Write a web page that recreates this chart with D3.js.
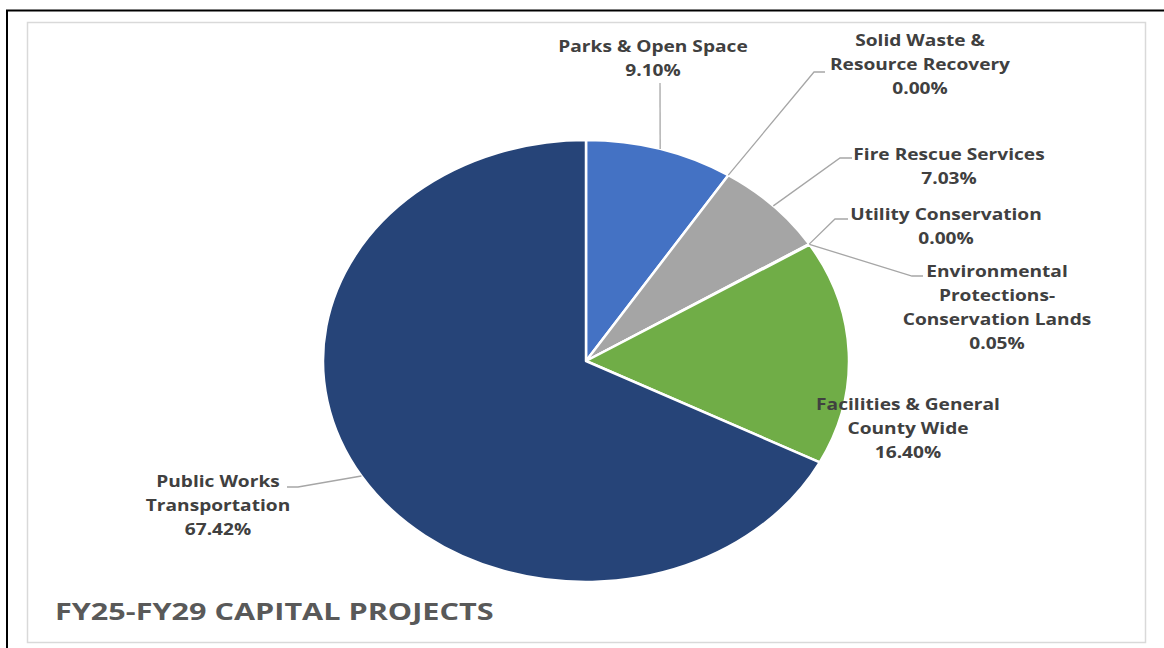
<!DOCTYPE html>
<html lang="en">
<head>
    <meta charset="UTF-8">
    <title>FY25-FY29 Capital Projects</title>
    <style>
        body {
            margin: 0;
            padding: 0;
            background-color: #ffffff;
            font-family: "Open Sans", Arial, sans-serif;
        }
        #chart {
            width: 1164px;
            height: 648px;
        }
    </style>
</head>
<body>

<div id="chart"></div>

<script src="https://d3js.org/d3.v7.min.js"></script>
<script>
    // Chart data (clockwise from 12 o'clock)
    const categories = [
        "Parks & Open Space",
        "Solid Waste & Resource Recovery",
        "Fire Rescue Services",
        "Utility Conservation",
        "Environmental Protections-Conservation Lands",
        "Facilities & General County Wide",
        "Public Works Transportation"
    ];
    const values = [9.10, 0.00, 7.03, 0.00, 0.05, 16.40, 67.42];
    const colors = ["#4472C4", "#ED7D31", "#A5A5A5", "#FFC000", "#5B9BD5", "#70AD47", "#264478"];

    // How each label is broken into lines
    const labelLines = [
        ["Parks & Open Space"],
        ["Solid Waste &", "Resource Recovery"],
        ["Fire Rescue Services"],
        ["Utility Conservation"],
        ["Environmental", "Protections-", "Conservation Lands"],
        ["Facilities & General", "County Wide"],
        ["Public Works", "Transportation"]
    ];

    // Label placement: centre x, first line y, leader elbow and end
    const labelPos = [
        { x: 653, y: 46, elbow: null, end: [660, 83] },
        { x: 920, y: 40, elbow: [814, 72], end: [825, 72] },
        { x: 949, y: 154, elbow: [840, 158], end: [852, 158] },
        { x: 946, y: 214, elbow: [835, 219], end: [848, 219] },
        { x: 997, y: 271, elbow: [912, 276], end: [923, 276] },
        { x: 908, y: 404, elbow: null, end: null },
        { x: 218, y: 481, elbow: [298, 487], end: [287, 487] }
    ];

    const width = 1164, height = 648;
    const cx = 586, cy = 361;
    const rx = 263, ry = 221;
    const stretch = rx / ry;   // the whole chart is drawn wider than tall

    const svg = d3.select("#chart").append("svg")
        .attr("width", width)
        .attr("height", height);

    // Outer frame (top and left black rules) and inner grey box
    svg.append("rect")
        .attr("x", 0).attr("y", 0)
        .attr("width", width).attr("height", height)
        .attr("fill", "#ffffff");
    svg.append("line")
        .attr("x1", 6).attr("y1", 10.5).attr("x2", width).attr("y2", 10.5)
        .attr("stroke", "#000").attr("stroke-width", 2);
    svg.append("line")
        .attr("x1", 7).attr("y1", 10).attr("x2", 7).attr("y2", height)
        .attr("stroke", "#000").attr("stroke-width", 2);
    svg.append("rect")
        .attr("x", 27.5).attr("y", 22.5)
        .attr("width", 1118).attr("height", 620)
        .attr("fill", "#ffffff")
        .attr("stroke", "#d9d9d9")
        .attr("stroke-width", 1.5);

    const data = categories.map((c, i) => ({ name: c, value: values[i], color: colors[i], lines: labelLines[i], pos: labelPos[i] }));

    const pie = d3.pie()
        .value(d => d.value)
        .sort(null);

    const arcs = pie(data);

    const arc = d3.arc()
        .innerRadius(0)
        .outerRadius(ry);

    // Slices: circular pie stretched into an ellipse
    svg.append("g")
        .attr("transform", `translate(${cx},${cy}) scale(${stretch},1)`)
        .selectAll("path")
        .data(arcs.filter(d => d.data.value > 0))
        .enter().append("path")
        .attr("d", arc)
        .attr("fill", d => d.data.color)
        .attr("stroke", "#ffffff")
        .attr("stroke-width", 2.5)
        .attr("stroke-linejoin", "round")
        .attr("vector-effect", "non-scaling-stroke");

    // Point on the ellipse edge at the slice's middle angle
    function anchor(d) {
        const a = (d.startAngle + d.endAngle) / 2;
        return [cx + rx * Math.sin(a), cy - ry * Math.cos(a)];
    }

    // Leader lines
    const line = d3.line();
    svg.append("g")
        .selectAll("path")
        .data(arcs.filter(d => d.data.pos.end))
        .enter().append("path")
        .attr("d", d => {
            const p = d.data.pos;
            const pts = [anchor(d)];
            if (p.elbow) pts.push(p.elbow);
            pts.push(p.end);
            return line(pts);
        })
        .attr("fill", "none")
        .attr("stroke", "#a6a6a6")
        .attr("stroke-width", 1.3);

    // Labels
    const fmt = d3.format(".2f");
    const labels = svg.append("g")
        .selectAll("text")
        .data(arcs)
        .enter().append("text")
        .attr("transform", d => `translate(${d.data.pos.x},0) scale(1.16,1)`)
        .attr("text-anchor", "middle")
        .attr("font-family", "'Open Sans', Arial, sans-serif")
        .attr("font-weight", "bold")
        .attr("font-size", "16.5px")
        .attr("fill", "#404040");

    labels.each(function(d) {
        const t = d3.select(this);
        const lines = d.data.lines.concat([fmt(d.data.value) + "%"]);
        lines.forEach((s, i) => {
            t.append("tspan")
                .attr("x", 0)
                .attr("y", d.data.pos.y + i * 24)
                .attr("dy", "0.35em")
                .text(s);
        });
    });

    // Title
    svg.append("text")
        .attr("transform", "translate(55,0) scale(1.36,1)")
        .attr("x", 0)
        .attr("y", 612)
        .attr("dy", "0.36em")
        .attr("font-family", "'Open Sans', Arial, sans-serif")
        .attr("font-weight", "bold")
        .attr("font-size", "22.5px")
        .attr("fill", "#595959")
        .text("FY25-FY29 CAPITAL PROJECTS");
</script>

</body>
</html>
